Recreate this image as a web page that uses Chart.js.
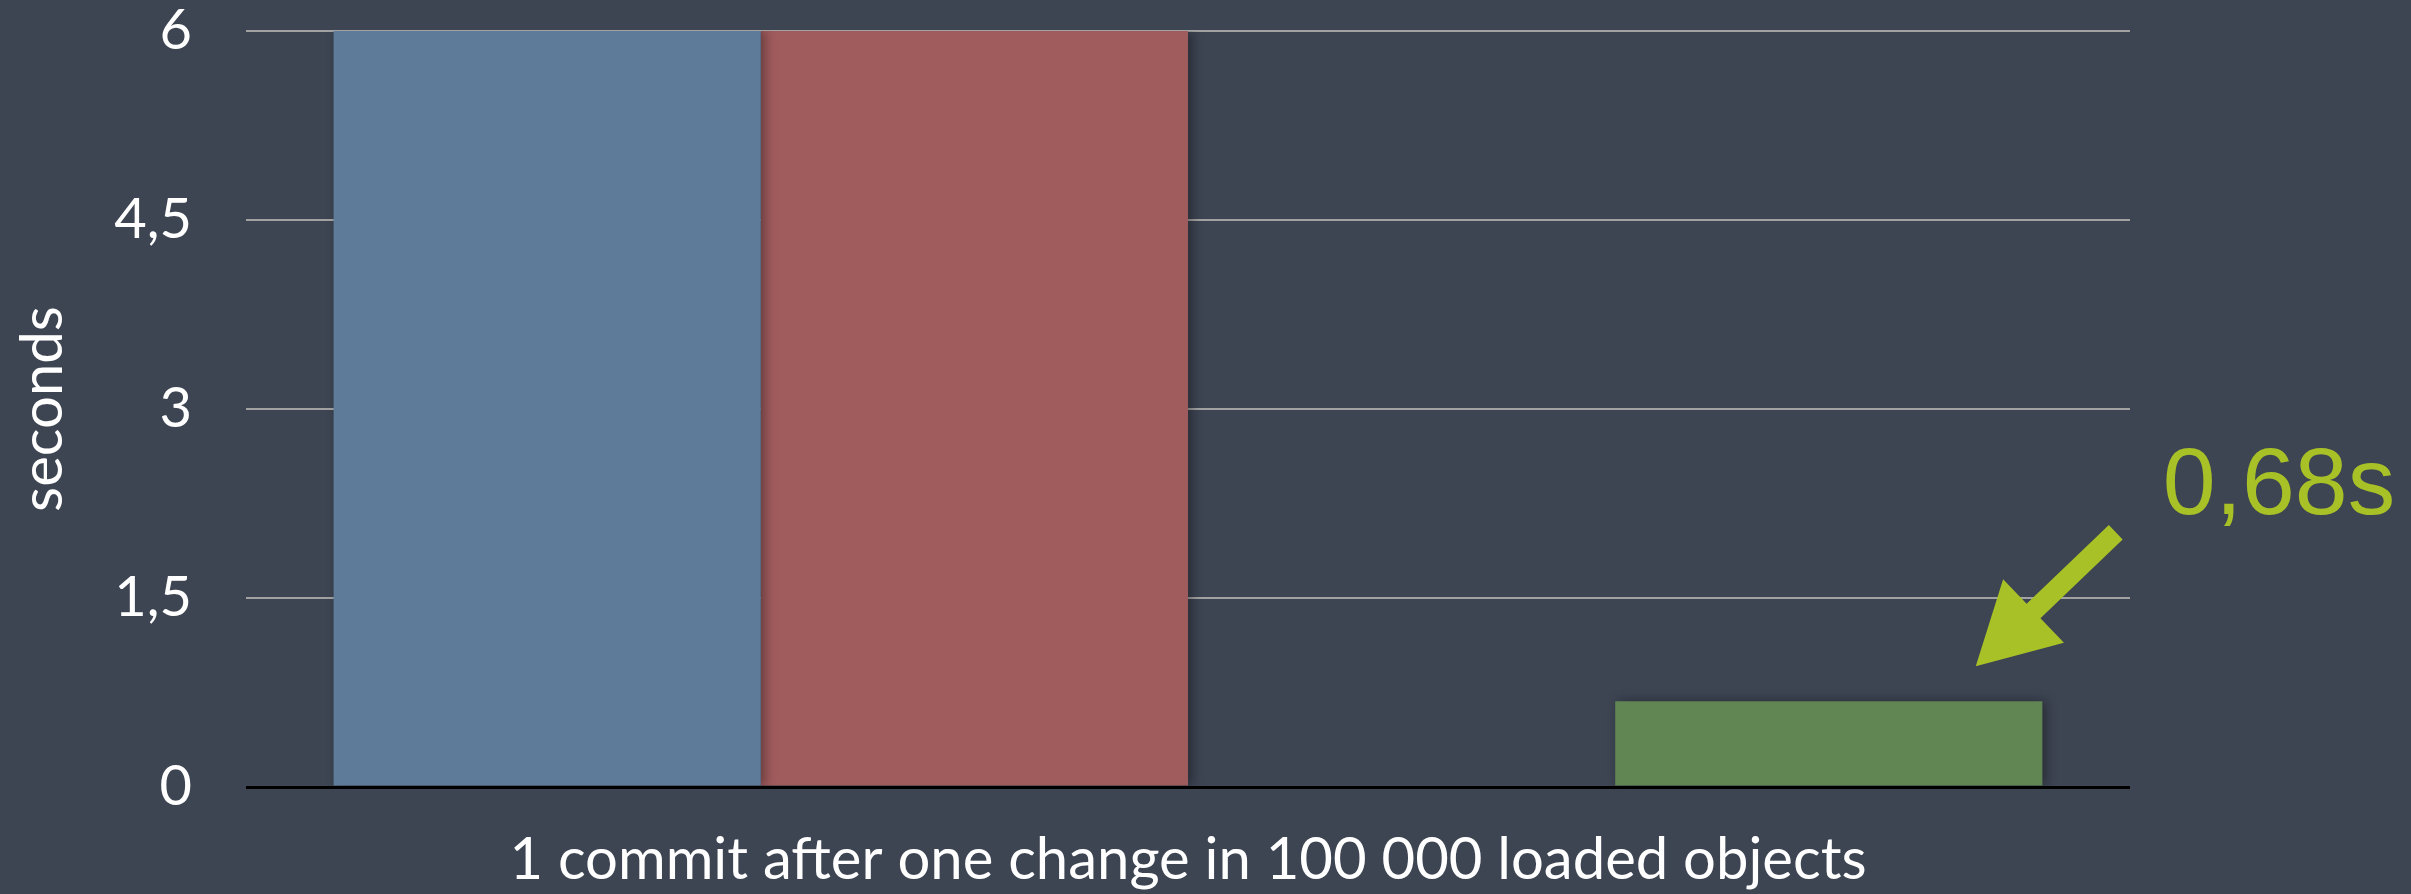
<!DOCTYPE html>
<html>
<head>
<meta charset="utf-8">
<script src="https://cdn.jsdelivr.net/npm/chart.js@4"></script>
<style>
  html, body { margin: 0; padding: 0; background: #3d4452; }
  #box { width: 2411px; height: 894px; }
</style>
</head>
<body>
<div id="box"><canvas id="commitChart"></canvas></div>
<script>
// values
const categories = ["1 commit after one change in 100 000 loaded objects"];
const blueValues = [6];
const redValues = [6];
const emptyValues = [null];
const greenValues = [0.68];
const yTicks = [0, 1.5, 3, 4.5, 6];
const yTitle = "seconds";

const bg = "#3d4452";
const white = "#ffffff";
const arrowGreen = "#a8c126";

function commaNumber(v) {
    return String(v).replace(".", ",");
}

// dark page behind the chart
const background = {
    id: "background",
    beforeDraw(chart) {
        const c = chart.ctx;
        c.save();
        c.fillStyle = bg;
        c.fillRect(0, 0, chart.width, chart.height);
        c.restore();
    }
};

// soft shadow to the right of the bars
const barShadow = {
    id: "barShadow",
    beforeDatasetsDraw(chart) {
        const c = chart.ctx;
        c.save();
        c.shadowColor = "rgba(0,0,0,0.35)";
        c.shadowBlur = 10;
        c.shadowOffsetX = 4;
    },
    afterDatasetsDraw(chart) {
        chart.ctx.restore();
    }
};

// arrow and "0,68s" label pointing at the green bar
const callout = {
    id: "callout",
    afterDraw(chart) {
        const meta = chart.getDatasetMeta(3);
        const bar = meta.data[0];
        if (!bar) return;
        const c = chart.ctx;
        const tipX = bar.x + bar.width * 0.344;
        const tipY = bar.y - 35;
        const tailX = tipX + 140;
        const tailY = tipY - 134;

        const dx = tipX - tailX, dy = tipY - tailY;
        const len = Math.sqrt(dx * dx + dy * dy);
        const ux = dx / len, uy = dy / len;
        const nx = -uy, ny = ux;
        const headLen = 80, headHalf = 44, shaftHalf = 10;
        const bx = tipX - ux * headLen, by = tipY - uy * headLen;

        c.save();
        c.fillStyle = arrowGreen;
        c.beginPath();
        c.moveTo(tailX + nx * shaftHalf, tailY + ny * shaftHalf);
        c.lineTo(bx + nx * shaftHalf, by + ny * shaftHalf);
        c.lineTo(bx + nx * headHalf, by + ny * headHalf);
        c.lineTo(tipX, tipY);
        c.lineTo(bx - nx * headHalf, by - ny * headHalf);
        c.lineTo(bx - nx * shaftHalf, by - ny * shaftHalf);
        c.lineTo(tailX - nx * shaftHalf, tailY - ny * shaftHalf);
        c.closePath();
        c.fill();

        c.font = "95px 'Liberation Sans', Arial, sans-serif";
        c.textAlign = "left";
        c.textBaseline = "alphabetic";
        c.fillText(commaNumber(greenValues[0]) + "s", tipX + 187, tipY - 152);
        c.restore();
    }
};

const ctx = document.getElementById("commitChart").getContext("2d");

const commitChart = new Chart(ctx, {
    type: "bar",
    data: {
        labels: categories,
        datasets: [
            { label: "series 1", data: blueValues, backgroundColor: "#5e7b99" },
            { label: "series 2", data: redValues, backgroundColor: "#a05b5d" },
            { label: "series 3", data: emptyValues, backgroundColor: "#888888" },
            { label: "series 4", data: greenValues, backgroundColor: "#618654" }
        ]
    },
    options: {
        responsive: true,
        maintainAspectRatio: false,
        animation: false,
        devicePixelRatio: 1,
        categoryPercentage: 0.907,
        barPercentage: 1.0,
        layout: { padding: { left: 0, right: 281, top: 0, bottom: 0 } },
        plugins: {
            legend: { display: false },
            tooltip: { enabled: false }
        },
        scales: {
            x: {
                grid: { display: false, drawTicks: false },
                border: { display: false },
                ticks: {
                    color: white,
                    padding: 38,
                    font: { family: "Lato, 'Open Sans', sans-serif", size: 58 }
                },
                afterFit(scale) {
                    scale.height = 107;
                    scale.paddingTop = 0;
                }
            },
            y: {
                min: 0,
                max: 6,
                afterBuildTicks(scale) {
                    scale.ticks = yTicks.map((v) => ({ value: v }));
                },
                grid: {
                    drawTicks: false,
                    color: (c) => (c.tick && c.tick.value === 0 ? "#000000" : "#a2a2a2"),
                    lineWidth: (c) => (c.tick && c.tick.value === 0 ? 3 : 2)
                },
                border: { display: false },
                ticks: {
                    color: white,
                    padding: 54,
                    font: { family: "Lato, 'Open Sans', sans-serif", size: 56 },
                    callback: (v) => commaNumber(v)
                },
                title: {
                    display: true,
                    text: yTitle,
                    color: white,
                    padding: { top: 8, bottom: 0 },
                    font: { family: "Lato, 'Open Sans', sans-serif", size: 58 }
                },
                afterFit(scale) {
                    scale.width = 246;
                    scale.paddingTop = 31;
                    scale.paddingBottom = 0;
                }
            }
        }
    },
    plugins: [background, barShadow, callout]
});
</script>
</body>
</html>
